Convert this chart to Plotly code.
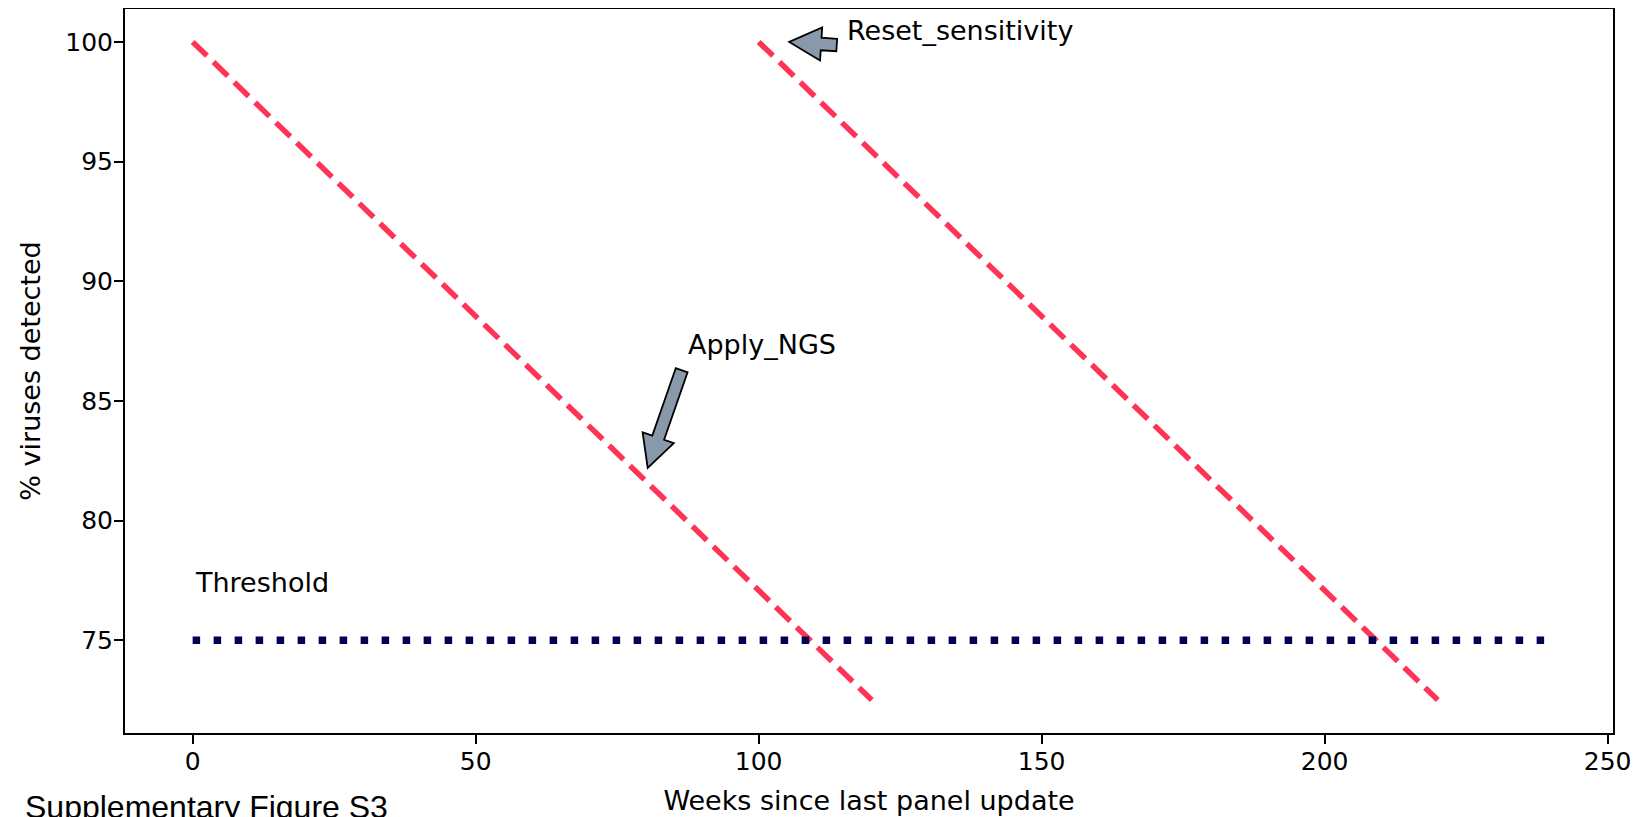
import plotly.graph_objects as go

# ---- data ----
weeks_first = [0, 120]
detected_first = [100, 72.5]
weeks_second = [100, 220]
detected_second = [100, 72.5]
threshold_weeks = [0, 239]
threshold_values = [75, 75]

x_ticks = [0, 50, 100, 150, 200, 250]
y_ticks = [75, 80, 85, 90, 95, 100]

# annotations: label, text position (left, baseline), arrow tail, arrow tip
ann_labels = ["Apply_NGS", "Reset_sensitivity", "Threshold"]
ann_text_x = [87.1, 115.2, 0]
ann_text_y = [86.95, 100.07, 77.0]
arrow_tail_x = [86.4, 113.8]
arrow_tail_y = [86.28, 99.87]
arrow_tip_x = [80.4, 105.4]
arrow_tip_y = [82.2, 100.0]

# ---- layout geometry (page body has an 8px margin) ----
FIG_W, FIG_H = 1632, 809
M_L, M_R, M_T, M_B = 117, 27, 1, 84
PW, PH = FIG_W - M_L - M_R, FIG_H - M_T - M_B

all_x = weeks_first + weeks_second + threshold_weeks
all_y = detected_first + detected_second + threshold_values
xmin, xmax = min(all_x), max(all_x)
ymin, ymax = min(all_y), max(all_y)
xpad = 0.05 * (xmax - xmin)
ypad = 0.05 * (ymax - ymin)
XR = [xmin - xpad, xmax + xpad]
YR = [ymin - ypad, ymax + ypad]


def to_px(x, y):
    px = (x - XR[0]) / (XR[1] - XR[0]) * PW
    py = (YR[1] - y) / (YR[1] - YR[0]) * PH
    return px, py


def to_data(px, py):
    x = XR[0] + px / PW * (XR[1] - XR[0])
    y = YR[1] - py / PH * (YR[1] - YR[0])
    return x, y


def arrow_path(tail, tip, shaft_w=12.5, head_w=33.0, head_len=32.0):
    tx, ty = to_px(*tail)
    hx, hy = to_px(*tip)
    dx, dy = hx - tx, hy - ty
    L = (dx * dx + dy * dy) ** 0.5
    ux, uy = dx / L, dy / L
    nx, ny = -uy, ux
    neck_x, neck_y = hx - ux * head_len, hy - uy * head_len
    pts = [
        (tx + nx * shaft_w / 2, ty + ny * shaft_w / 2),
        (neck_x + nx * shaft_w / 2, neck_y + ny * shaft_w / 2),
        (neck_x + nx * head_w / 2, neck_y + ny * head_w / 2),
        (hx, hy),
        (neck_x - nx * head_w / 2, neck_y - ny * head_w / 2),
        (neck_x - nx * shaft_w / 2, neck_y - ny * shaft_w / 2),
        (tx - nx * shaft_w / 2, ty - ny * shaft_w / 2),
    ]
    dpts = [to_data(px, py) for px, py in pts]
    return "M " + " L ".join(f"{x:.4f},{y:.4f}" for x, y in dpts) + " Z"


RED = "#ff3355"
NAVY = "#000055"
FONT = "DejaVu Sans"

fig = go.Figure()
fig.add_trace(go.Scatter(x=weeks_first, y=detected_first, mode="lines",
                         line=dict(color=RED, width=5.5, dash="20px,9px"),
                         showlegend=False, hoverinfo="skip"))
fig.add_trace(go.Scatter(x=weeks_second, y=detected_second, mode="lines",
                         line=dict(color=RED, width=5.5, dash="20px,9px"),
                         showlegend=False, hoverinfo="skip"))
fig.add_trace(go.Scatter(x=threshold_weeks, y=threshold_values, mode="lines",
                         line=dict(color=NAVY, width=7.5, dash="7.5px,13.5px"),
                         showlegend=False, hoverinfo="skip"))

shapes = []
for i in range(len(arrow_tip_x)):
    shapes.append(dict(type="path", xref="x", yref="y",
                       path=arrow_path((arrow_tail_x[i], arrow_tail_y[i]),
                                       (arrow_tip_x[i], arrow_tip_y[i])),
                       fillcolor="#8899aa", line=dict(color="black", width=1.8),
                       layer="above"))

annotations = []
for i, lab in enumerate(ann_labels):
    annotations.append(dict(x=ann_text_x[i], y=ann_text_y[i], xref="x", yref="y",
                            text=lab, showarrow=False, xanchor="left",
                            yanchor="bottom", yshift=-8,
                            font=dict(family=FONT, size=27, color="black")))

annotations.append(dict(x=(15 - M_L) / PW, y=(PH + M_T - 819) / PH,
                        xref="paper", yref="paper", text="Supplementary Figure S3",
                        showarrow=False, xanchor="left", yanchor="bottom",
                        font=dict(family="Liberation Sans", size=32, color="black")))

axis_common = dict(showline=True, linecolor="black", linewidth=2, mirror=True,
                   ticks="outside", ticklen=9, tickwidth=1.6, tickcolor="black",
                   showgrid=False, zeroline=False, ticklabelstandoff=-4,
                   tickfont=dict(family=FONT, size=25, color="black"))

fig.update_layout(
    width=FIG_W, height=FIG_H,
    margin=dict(l=M_L, r=M_R, t=M_T, b=M_B, autoexpand=False),
    paper_bgcolor="white", plot_bgcolor="white",
    font=dict(family=FONT, color="black"),
    shapes=shapes, annotations=annotations,
    xaxis=dict(range=XR, tickvals=x_ticks, ticktext=[str(v) for v in x_ticks],
               title=dict(text="Weeks since last panel update",
                          font=dict(family=FONT, size=27), standoff=16),
               **axis_common),
    yaxis=dict(range=YR, tickvals=y_ticks, ticktext=[str(v) for v in y_ticks],
               title=dict(text="% viruses detected",
                          font=dict(family=FONT, size=27), standoff=17),
               **axis_common),
)

fig.write_html("out.html")
